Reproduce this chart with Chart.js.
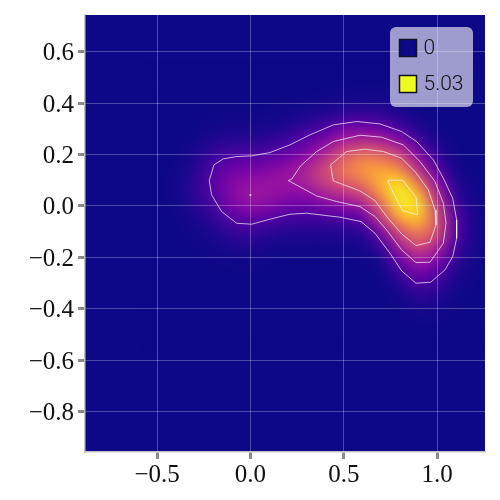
<!DOCTYPE html>
<html><head><meta charset="utf-8">
<style>html,body{margin:0;padding:0;background:#fff}canvas{display:block}</style>
<script src="https://cdn.jsdelivr.net/npm/chart.js@4"></script>
</head><body><canvas id="c" width="500" height="500"></canvas>
<script>
// Axis
const xRange=[-0.886,1.256];
const yRange=[-0.958,0.743];
const xTicks=[-0.5,0,0.5,1];
const xTickLabels=['\u22120.5','0.0','0.5','1.0'];
const yTicks=[0.6,0.4,0.2,0,-0.2,-0.4,-0.6,-0.8];
const yTickLabels=['0.6','0.4','0.2','0.0','\u22120.2','\u22120.4','\u22120.6','\u22120.8'];
// Legend
const legendLabels=['0','5.03'];
const legendValues=[0,5.03];
// Heat grid: values read at cell centres; everything outside this window is 0
const gridX=[-0.5,-0.4,-0.3,-0.2,-0.1,0,0.1,0.2,0.3,0.4,0.5,0.6,0.7,0.8,0.9,1.0,1.1,1.2,1.3];
const gridY=[0.5,0.45,0.4,0.35,0.3,0.25,0.2,0.15,0.1,0.05,0,-0.05,-0.1,-0.15,-0.2,-0.25,-0.3,-0.35,-0.4,-0.45,-0.5];
const gridZ=[
[0,0,0,0,0,0,0,0,0,0,0,0,0,0,0,0,0,0,0],
[0,0,0,0,0,0,0,0,0,.01,.02,.03,.03,.01,0,0,0,0,0],
[0,0,0,0,0,0,0,.02,.04,.07,.1,.12,.12,.05,.01,0,0,0,0],
[0,0,0,.02,.03,.03,.04,.07,.15,.25,.4,.45,.4,.2,.05,0,0,0,0],
[0,0,0,.08,.1,.1,.13,.22,.45,.7,1.15,1.2,1.05,.6,.2,.03,0,0,0],
[0,0,.05,.2,.3,.3,.35,.58,.9,1.35,1.92,2.08,1.96,1.5,.6,.12,0,0,0],
[0,0,.12,.42,.62,.65,.75,1,1.35,2,2.76,3.19,3,2.47,1.35,.35,.02,0,0],
[0,.02,.22,.68,1,1.1,1.25,1.5,1.88,2.53,3.25,3.79,3.85,3.43,2,.7,.07,0,0],
[0,.05,.3,.8,1.3,1.5,1.58,1.65,1.92,2.5,2.94,3.43,4.2,4.5,3.06,1.35,.18,.02,0],
[0,.05,.3,.75,1.35,1.68,1.6,1.5,1.5,1.92,2.19,2.62,3.9,5.03,4.1,1.88,.35,.04,0],
[0,.03,.22,.55,1.2,1.5,1.35,1.05,1,1.2,1.4,1.75,2.94,4.7,4.7,2.31,.55,.08,0],
[0,.01,.12,.32,.75,.9,.72,.55,.5,.55,.65,.9,2.35,3.95,4.35,2.66,.75,.12,0],
[0,0,.05,.15,.4,.45,.3,.22,.2,.2,.22,.33,1.3,2.7,3.43,2.62,.75,.12,0],
[0,0,.02,.06,.17,.2,.12,.08,.07,.07,.08,.1,.55,1.92,2.76,2,.6,.1,0],
[0,0,0,.02,.05,.07,.03,.02,.02,.02,.02,.03,.15,1.2,1.92,1.4,.4,.06,0],
[0,0,0,0,.01,.02,0,0,0,0,0,0,.04,.65,1.25,.85,.22,.03,0],
[0,0,0,0,0,0,0,0,0,0,0,0,0,.25,.7,.45,.1,.01,0],
[0,0,0,0,0,0,0,0,0,0,0,0,0,.07,.3,.2,.04,0,0],
[0,0,0,0,0,0,0,0,0,0,0,0,0,.01,.1,.07,.01,0,0],
[0,0,0,0,0,0,0,0,0,0,0,0,0,0,.02,.02,0,0,0],
[0,0,0,0,0,0,0,0,0,0,0,0,0,0,0,0,0,0,0]
];
// Contours as [x,y]
const contour1=[[-0.2205,0.0986],[-0.1955,0.1596],[-0.1455,0.183],[-0.0741,0.192],[0.0062,0.1946],[0.1044,0.2076],[0.2116,0.2374],[0.3187,0.2764],[0.4437,0.3153],[0.5687,0.3283],[0.6936,0.3192],[0.8097,0.2893],[0.89,0.2504],[0.9793,0.1791],[1.0329,0.1077],[1.0829,0.0298],[1.1043,-0.0545],[1.1043,-0.1259],[1.0829,-0.1972],[1.0418,-0.2491],[0.965,-0.2971],[0.8865,-0.301],[0.8097,-0.253],[0.7472,-0.1842],[0.6669,-0.1064],[0.5919,-0.061],[0.4794,-0.0441],[0.3008,-0.0285],[0.2116,-0.0324],[0.1044,-0.0519],[0.0062,-0.0714],[-0.0741,-0.0675],[-0.1544,-0.0221],[-0.208,0.0428],[-0.2205,0.0986]];
const contour2=[[0.2026,0.0986],[0.2205,0.1038],[0.2687,0.1557],[0.3544,0.2115],[0.4437,0.2504],[0.5865,0.2751],[0.7026,0.2673],[0.8187,0.2374],[0.9079,0.1726],[0.9883,0.0947],[1.0329,0.0104],[1.0472,-0.0675],[1.0329,-0.1453],[0.9615,-0.2193],[0.8865,-0.2206],[0.8097,-0.1713],[0.7293,-0.0934],[0.6669,-0.0415],[0.5865,-0.0026],[0.4615,0.0169],[0.3544,0.0389],[0.2026,0.0986]];
const contour3=[[0.4294,0.1596],[0.5151,0.2115],[0.6133,0.2206],[0.7115,0.2115],[0.8097,0.1855],[0.8811,0.1336],[0.9526,0.0623],[0.9883,-0.0156],[0.9936,-0.074],[0.9615,-0.1414],[0.8865,-0.1544],[0.8097,-0.109],[0.7293,-0.0415],[0.6669,0.0208],[0.5865,0.0584],[0.4437,0.0973],[0.4294,0.1596]];
const contour4=[[0.7347,0.0999],[0.815,0.0999],[0.8865,0.0337],[0.8954,-0.035],[0.815,-0.0182],[0.765,0.0493],[0.7347,0.0999]];
const leftPeak=[[0,0.042]];

const plasma=[[13,8,135],[65,4,157],[106,0,168],[143,13,164],[177,42,144],[204,71,120],[225,100,98],[242,132,75],[252,166,54],[252,206,37],[240,249,33]];
function cmap(v){
  const t=Math.max(0,Math.min(1,v/legendValues[1]))*(plasma.length-1);
  const i=Math.min(plasma.length-2,Math.floor(t)),f=t-i;
  return plasma[i].map((c,k)=>Math.round(c+(plasma[i+1][k]-c)*f));
}
const heatPlugin={id:'heat',beforeDatasetsDraw(chart){
  const {ctx,chartArea:a,scales:{x,y}}=chart;
  const c0=cmap(0);
  ctx.save();
  ctx.beginPath();ctx.rect(a.left,a.top,a.right-a.left,a.bottom-a.top);ctx.clip();
  ctx.fillStyle=`rgb(${c0})`;ctx.fillRect(a.left,a.top,a.right-a.left,a.bottom-a.top);
  const off=document.createElement('canvas');off.width=gridX.length;off.height=gridY.length;
  const oc=off.getContext('2d');const im=oc.createImageData(off.width,off.height);
  gridZ.forEach((row,j)=>row.forEach((v,i)=>{const c=cmap(v),p=(j*off.width+i)*4;
    im.data[p]=c[0];im.data[p+1]=c[1];im.data[p+2]=c[2];im.data[p+3]=255;}));
  oc.putImageData(im,0,0);
  const dx=(gridX[1]-gridX[0])/2,dy=(gridY[0]-gridY[1])/2;
  const L=x.getPixelForValue(gridX[0]-dx),R=x.getPixelForValue(gridX[gridX.length-1]+dx);
  const T=y.getPixelForValue(gridY[0]+dy),B=y.getPixelForValue(gridY[gridY.length-1]-dy);
  ctx.imageSmoothingEnabled=true;ctx.imageSmoothingQuality='high';
  ctx.filter='blur(5px)';
  ctx.drawImage(off,L,T,R-L,B-T);
  ctx.filter='none';
  ctx.restore();
}};
const legendPlugin={id:'box',afterDraw(chart){
  const {ctx}=chart;
  ctx.save();
  ctx.fillStyle='rgba(255,255,255,0.6)';
  ctx.beginPath();ctx.roundRect(390,27,83,80,6);ctx.fill();
  legendLabels.forEach((t,i)=>{
    const yy=39+i*36;
    ctx.fillStyle=`rgb(${cmap(legendValues[i])})`;ctx.fillRect(399,yy,18,18);
    ctx.strokeStyle='#101020';ctx.lineWidth=1.5;ctx.strokeRect(399.5,yy+.5,17,17);
    ctx.fillStyle='#111';ctx.font='300 21px Roboto';ctx.textBaseline='middle';ctx.textAlign='left';
    ctx.fillText(t,423.5,yy+10);
  });
  ctx.restore();
}};
const line=(d)=>({type:'scatter',data:d.map(p=>({x:p[0],y:p[1]})),showLine:true,tension:0,borderColor:'rgba(255,255,255,0.68)',borderWidth:1,pointRadius:0,fill:false});
const axis=(range,ticks,labels,fit,pad,off)=>({type:'linear',min:range[0],max:range[1],
  afterBuildTicks(s){s.ticks=ticks.map(v=>({value:v}));},
  afterFit(s){fit(s);s.paddingTop=0;s.paddingBottom=0;s.paddingLeft=0;s.paddingRight=0;},
  grid:{color:'rgba(255,255,255,0.27)',lineWidth:1,z:1,tickColor:'#8a8a8a',tickWidth:3,tickLength:7},
  border:{color:'#c4c4c4',width:1.5,z:1},
  ticks:{color:'#111',font:{family:'"Liberation Serif"',size:25},padding:pad,labelOffset:off,maxRotation:0,autoSkip:false,
    callback(v){const i=ticks.indexOf(v);return i<0?'':labels[i];}}});
new Chart(document.getElementById('c'),{
  type:'scatter',
  data:{datasets:[line(contour1),line(contour2),line(contour3),line(contour4),
    {type:'scatter',data:leftPeak.map(p=>({x:p[0],y:p[1]})),pointRadius:1,pointBackgroundColor:'rgba(255,255,255,0.85)',pointBorderWidth:0}]},
  options:{responsive:false,animation:false,events:[],
    layout:{padding:{top:15,right:15,left:0,bottom:0}},
    plugins:{legend:{display:false},tooltip:{enabled:false}},
    scales:{
      x:axis(xRange,xTicks,xTickLabels,s=>{s.height=48;},1,0),
      y:axis(yRange,yTicks,yTickLabels,s=>{s.width=85;},4,2)
    }},
  plugins:[heatPlugin,legendPlugin]
});
</script></body></html>
